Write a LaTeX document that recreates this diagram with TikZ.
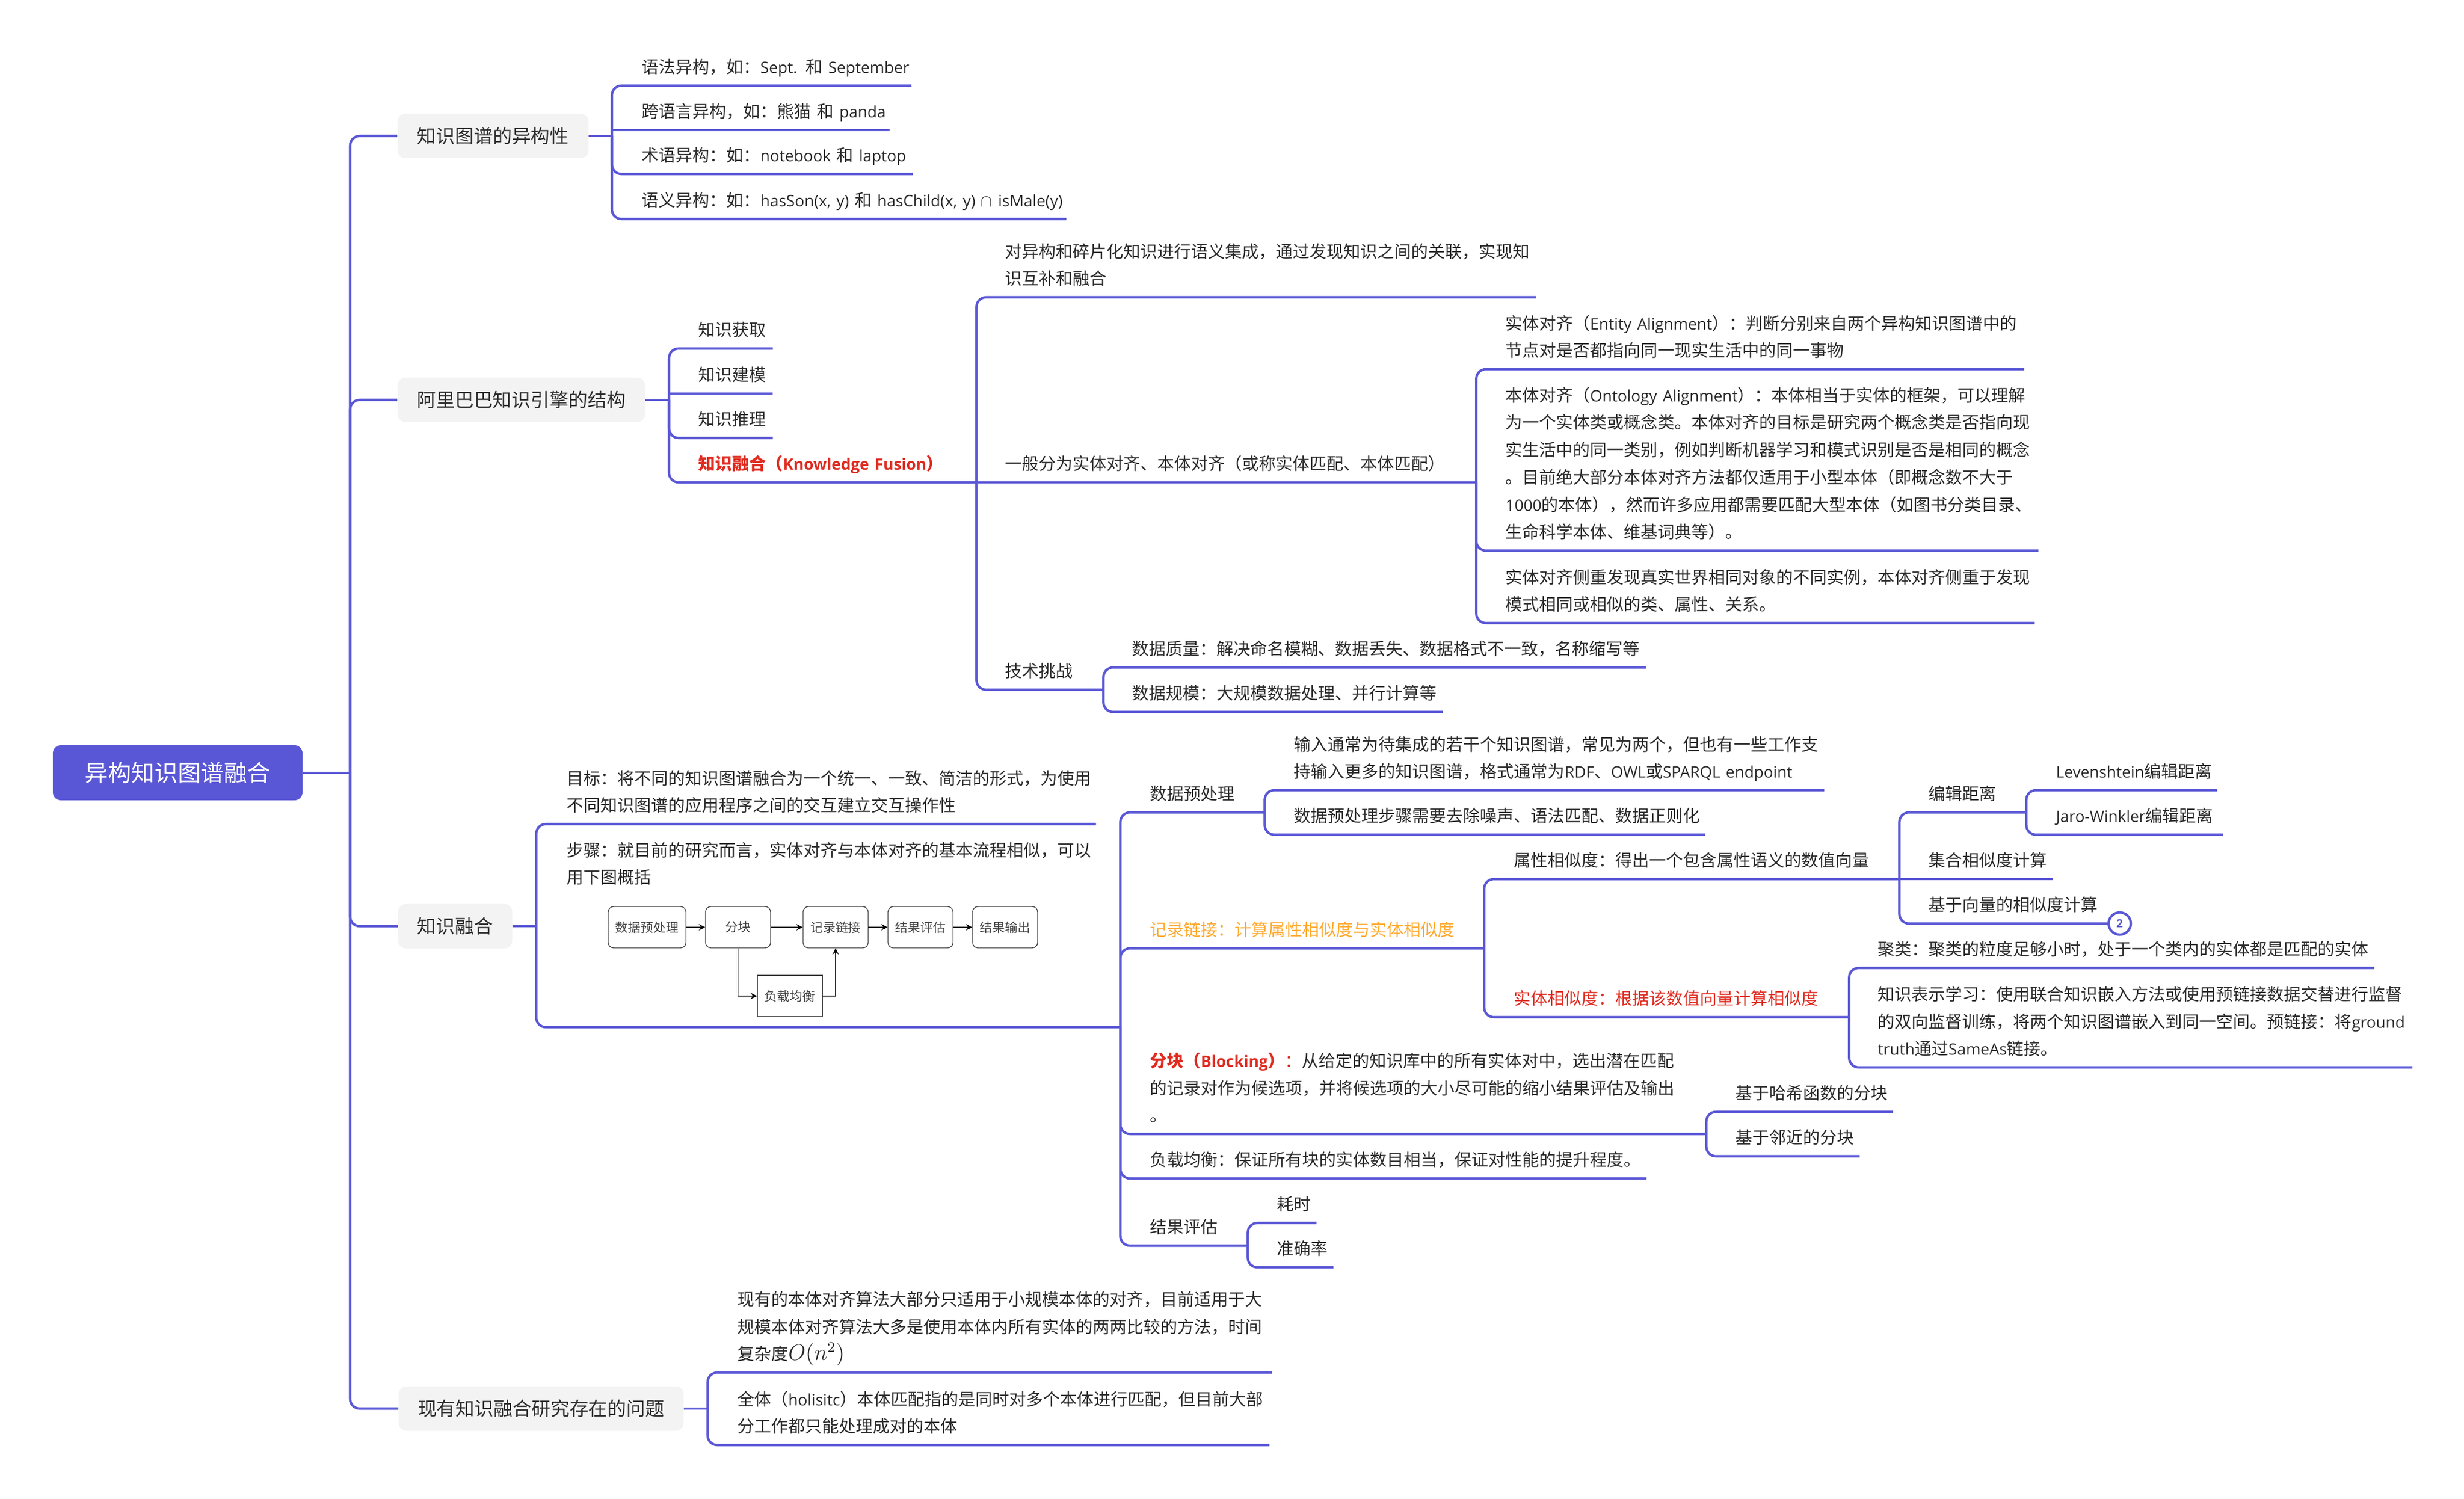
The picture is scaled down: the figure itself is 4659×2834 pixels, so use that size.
\documentclass[tikz,border=0pt]{standalone}
\usepackage{fontspec}
\usepackage{tikz}
\usetikzlibrary{positioning, arrows}
\setmainfont{Noto Sans CJK SC}
\newfontfamily\enfont[Scale=0.93]{Open Sans}
\newcommand{\en}[1]{{\enfont #1}}
\newdimen\pxunit
\pxunit=0.01cm
\definecolor{mapblue}{HTML}{5A57D6}
\definecolor{topicgray}{HTML}{F3F3F3}
\definecolor{mapred}{HTML}{E02B20}
\definecolor{maporange}{HTML}{FFA92E}
\definecolor{maptext}{HTML}{2B2B2B}
\tikzset{%
    % Central topic and first level
    rootbox/.style  = {fill=mapblue, text=white, rounded corners=0.15cm, inner sep=0pt,
    font=\fontsize{12.5}{15}\selectfont, minimum width=472\pxunit, minimum height=104\pxunit},
    topic/.style    = {fill=topicgray, text=maptext, rounded corners=0.15cm, inner sep=0pt, anchor=west,
    font=\fontsize{10.2}{13}\selectfont, minimum width=#1\pxunit, minimum height=84\pxunit},
    % Underlined text of the map
    leaf/.style     = {anchor=south west, align=left, text=maptext, inner xsep=0pt, inner ysep=2pt,
    font=\fontsize{9.1}{14.7}\selectfont, text width=#1\pxunit, execute at end node=\strut},
    % Small flow chart
    flowbox/.style  = {draw=black!75, line width=0.4pt, text=black!75, inner sep=0pt,
    font=\fontsize{6.8}{8}\selectfont, minimum width=#1\pxunit, minimum height=78\pxunit}
}

\begin{document}
\begin{tikzpicture}[x=0.01cm, y=-0.01cm]

	\tikzstyle{link}=[mapblue, line width=1.3pt, rounded corners=0.18cm]
	\tikzstyle{linkstraight}=[mapblue, line width=1.3pt]
	\tikzstyle{farrow}=[->, >=stealth, black, line width=0.5pt]

	\useasboundingbox (0,0) rectangle (4659,2834);

	% root and first level
	\node[rootbox] (root) at (336,1461) {异构知识图谱融合};
	\coordinate (jroot) at (662,1461);
	\node[topic=361] (hetero) at (751,257) {知识图谱的异构性};
	\node[topic=468] (engine) at (751,756) {阿里巴巴知识引擎的结构};
	\node[topic=216] (merge) at (752,1751) {知识融合};
	\node[topic=539] (issue) at (753,2663) {现有知识融合研究存在的问题};

	\draw[linkstraight] (root.east) -- (jroot);
	\draw[link] (jroot) |- (hetero.west);
	\draw[link] (jroot) |- (engine.west);
	\draw[link] (jroot) |- (merge.west);
	\draw[link] (jroot) |- (issue.west);

	% heterogeneity
	\coordinate (jhetero) at (1157,257);
	\node[leaf=509] (h1) at (1213,162) {语法异构，如：\en{Sept.} 和 \en{September}};
	\node[leaf=468] (h2) at (1213,246) {跨语言异构，如：熊猫 和 \en{panda}};
	\node[leaf=512] (h3) at (1213,329) {术语异构：如：\en{notebook} 和 \en{laptop}};
	\node[leaf=802] (h4) at (1213,414) {\mbox{语义异构：如：\en{hasSon(x, y)} 和 \en{hasChild(x, y)} $\cap$ \en{isMale(y)}}};
	\draw[linkstraight] (hetero.east) -- (jhetero);
	\draw[link] (jhetero) |- (h1.south east);
	\draw[linkstraight] (jhetero) |- (h2.south east);
	\draw[link] (jhetero) |- (h3.south east);
	\draw[link] (jhetero) |- (h4.south east);

	% engine structure
	\coordinate (jengine) at (1265,756);
	\node[leaf=140] (e1) at (1320,659) {知识获取};
	\node[leaf=140] (e2) at (1320,744) {知识建模};
	\node[leaf=140] (e3) at (1320,828) {知识推理};
	\node[leaf=525, text=mapred] (e4) at (1320,912) {\bfseries 知识融合（\en{Knowledge Fusion}）};
	\draw[linkstraight] (engine.east) -- (jengine);
	\draw[link] (jengine) |- (e1.south east);
	\draw[linkstraight] (jengine) |- (e2.south east);
	\draw[link] (jengine) |- (e3.south east);
	\draw[link] (jengine) |- (e4.south east);

	\node[leaf=1003] (f1) at (1900,562) {对异构和碎片化知识进行语义集成，通过发现知识之间的关联，实现知\\识互补和融合};
	\node[leaf=890] (f2) at (1900,912) {一般分为实体对齐、本体对齐（或称实体匹配、本体匹配）};
	\node[leaf=185] (f3) at (1900,1304) {技术挑战};
	\draw[link] (e4.south east) |- (f1.south east);
	\draw[linkstraight] (e4.south east) -- (f2.south east);
	\draw[link] (e4.south east) |- (f3.south east);

	\node[leaf=980] (a1) at (2846,698) {实体对齐（\en{Entity Alignment}）：判断分别来自两个异构知识图谱中的\\节点对是否都指向同一现实生活中的同一事物};
	\node[leaf=1007] (a2) at (2846,1041) {本体对齐（\en{Ontology Alignment}）：本体相当于实体的框架，可以理解\\为一个实体类或概念类。本体对齐的目标是研究两个概念类是否指向现\\实生活中的同一类别，例如判断机器学习和模式识别是否是相同的概念\\。目前绝大部分本体对齐方法都仅适用于小型本体（即概念数不大于\\\en{1000}的本体），然而许多应用都需要匹配大型本体（如图书分类目录、\\生命科学本体、维基词典等）。};
	\node[leaf=1000] (a3) at (2846,1178) {实体对齐侧重发现真实世界相同对象的不同实例，本体对齐侧重于发现\\模式相同或相似的类、属性、关系。};
	\draw[link] (f2.south east) |- (a1.south east);
	\draw[link] (f2.south east) |- (a2.south east);
	\draw[link] (f2.south east) |- (a3.south east);

	\node[leaf=971] (c1) at (2140,1262) {数据质量：解决命名模糊、数据丢失、数据格式不一致，名称缩写等};
	\node[leaf=587] (c2) at (2140,1346) {数据规模：大规模数据处理、并行计算等};
	\draw[link] (f3.south east) |- (c1.south east);
	\draw[link] (f3.south east) |- (c2.south east);

	% knowledge fusion
	\coordinate (jmerge) at (1014,1751);
	\node[leaf=1000] (m1) at (1071,1558) {目标：将不同的知识图谱融合为一个统一、一致、简洁的形式，为使用\\不同知识图谱的应用程序之间的交互建立交互操作性};
	\node[leaf=1046] (m2) at (1071,1942) {步骤：就目前的研究而言，实体对齐与本体对齐的基本流程相似，可以\\用下图概括\\[55.8pt]\mbox{}};
	\draw[linkstraight] (merge.east) -- (jmerge);
	\draw[link] (jmerge) |- (m1.south east);
	\draw[link] (jmerge) |- (m2.south east);

	% flow chart under the steps
	\node[flowbox=147, rounded corners=0.1cm] (pre) at (1223.5,1753) {数据预处理};
	\node[flowbox=123, rounded corners=0.1cm] (blk) at (1395.5,1753) {分块};
	\node[flowbox=123, rounded corners=0.1cm] (lnk) at (1580,1753) {记录链接};
	\node[flowbox=123, rounded corners=0.1cm] (evl) at (1740.5,1753) {结果评估};
	\node[flowbox=123, rounded corners=0.1cm] (out) at (1900.5,1753) {结果输出};
	\node[flowbox=123] (bal) at (1493.5,1883) {负载均衡};
	\draw[farrow] (pre) -- (blk);
	\draw[farrow] (blk) -- (lnk);
	\draw[farrow] (lnk) -- (evl);
	\draw[farrow] (evl) -- (out);
	\draw[farrow] (blk.south) |- (bal.west);
	\draw[farrow] (bal.east) -| (lnk.south);

	% steps of the fusion
	\node[leaf=216] (p1) at (2174,1536) {数据预处理};
	\node[leaf=631, text=maporange] (p2) at (2174,1793) {记录链接：计算属性相似度与实体相似度};
	\node[leaf=1051] (p3) at (2174,2144) {{\color{mapred}\bfseries 分块（\en{Blocking}）}{\color{mapred}：}从给定的知识库中的所有实体对中，选出潜在匹配\\的记录对作为候选项，并将候选项的大小尽可能的缩小结果评估及输出\\。};
	\node[leaf=938] (p4) at (2174,2228) {负载均衡：保证所有块的实体数目相当，保证对性能的提升程度。};
	\node[leaf=184] (p5) at (2174,2355) {结果评估};
	\draw[link] (m2.south east) |- (p1.south east);
	\draw[link] (m2.south east) |- (p2.south east);
	\draw[link] (m2.south east) |- (p3.south east);
	\draw[link] (m2.south east) |- (p4.south east);
	\draw[link] (m2.south east) |- (p5.south east);

	\node[leaf=1002] (q1) at (2446,1494) {输入通常为待集成的若干个知识图谱，常见为两个，但也有一些工作支\\持输入更多的知识图谱，格式通常为\en{RDF}、\en{OWL}或\en{SPARQL endpoint}};
	\node[leaf=777] (q2) at (2446,1578) {数据预处理步骤需要去除噪声、语法匹配、数据正则化};
	\draw[link] (p1.south east) |- (q1.south east);
	\draw[link] (p1.south east) |- (q2.south east);

	\node[leaf=728] (r1) at (2862,1662) {属性相似度：得出一个包含属性语义的数值向量};
	\node[leaf=633, text=mapred] (r2) at (2862,1923) {实体相似度：根据该数值向量计算相似度};
	\draw[link] (p2.south east) |- (r1.south east);
	\draw[link] (p2.south east) |- (r2.south east);

	\node[leaf=184] (s1) at (3646,1536) {编辑距离};
	\node[leaf=234] (s2) at (3646,1662) {集合相似度计算};
	\node[leaf=339] (s3) at (3646,1746) {基于向量的相似度计算};
	\node[circle, draw=mapblue, line width=1.3pt, fill=white, text=mapblue, inner sep=0pt, minimum size=42\pxunit, font=\enfont\bfseries\fontsize{6.5}{7}\selectfont] (badge) at (4008,1746) {2};
	\draw[link] (r1.south east) |- (s1.south east);
	\draw[linkstraight] (r1.south east) -- (s2.south east);
	\draw[link] (r1.south east) |- (s3.south east);
	\draw[linkstraight] (s3.south east) -- (badge.west);

	\node[leaf=304] (t1) at (3887,1494) {\en{Levenshtein}编辑距离};
	\node[leaf=315] (t2) at (3887,1578) {\en{Jaro-Winkler}编辑距离};
	\draw[link] (s1.south east) |- (t1.south east);
	\draw[link] (s1.south east) |- (t2.south east);

	\node[leaf=938] (u1) at (3550,1830) {聚类：聚类的粒度足够小时，处于一个类内的实体都是匹配的实体};
	\node[leaf=1010] (u2) at (3550,2018) {知识表示学习：使用联合知识嵌入方法或使用预链接数据交替进行监督\\的双向监督训练，将两个知识图谱嵌入到同一空间。预链接：将\en{ground}\\\en{truth}通过\en{SameAs}链接。};
	\draw[link] (r2.south east) |- (u1.south east);
	\draw[link] (r2.south east) |- (u2.south east);

	\node[leaf=297] (v1) at (3281,2102) {基于哈希函数的分块};
	\node[leaf=234] (v2) at (3281,2186) {基于邻近的分块};
	\draw[link] (p3.south east) |- (v1.south east);
	\draw[link] (p3.south east) |- (v2.south east);

	\node[leaf=74] (w1) at (2414,2312) {耗时};
	\node[leaf=106] (w2) at (2414,2396) {准确率};
	\draw[link] (p5.south east) |- (w1.south east);
	\draw[link] (p5.south east) |- (w2.south east);

	% open issues
	\coordinate (jissue) at (1338,2663);
	\node[leaf=1010] (z1) at (1394,2595) {现有的本体对齐算法大部分只适用于小规模本体的对齐，目前适用于大\\规模本体对齐算法大多是使用本体内所有实体的两两比较的方法，时间\\复杂度{\fontsize{11.5}{14.7}\selectfont$O(n^2)$}};
	\node[leaf=1005] (z2) at (1394,2732) {全体（\en{holisitc}）本体匹配指的是同时对多个本体进行匹配，但目前大部\\分工作都只能处理成对的本体};
	\draw[linkstraight] (issue.east) -- (jissue);
	\draw[link] (jissue) |- (z1.south east);
	\draw[link] (jissue) |- (z2.south east);

\end{tikzpicture}
\end{document}
